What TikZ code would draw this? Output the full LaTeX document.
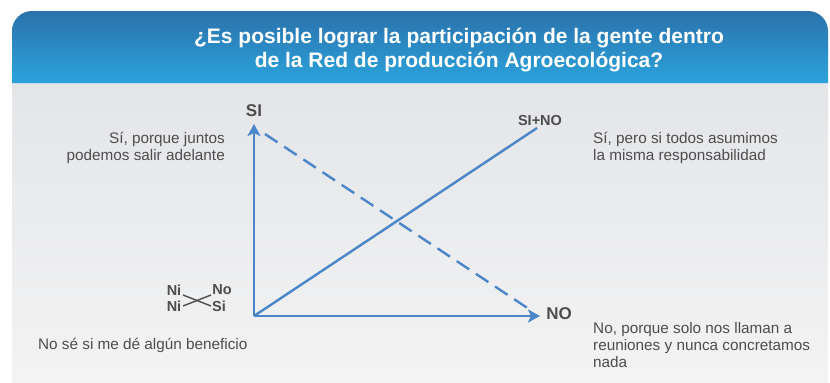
\documentclass[tikz,border=0pt]{standalone}
\usepackage{fontspec}
\setmainfont{Liberation Sans}
\usetikzlibrary{arrows.meta}
\definecolor{hdtop}{HTML}{2B72AC}
\definecolor{hdbot}{HTML}{2BA3DC}
\definecolor{bodytop}{HTML}{E3E5E8}
\definecolor{bodybot}{HTML}{F3F3F3}
\definecolor{axisblue}{HTML}{4A86C8}
\definecolor{txtgray}{HTML}{4D4D4D}
\begin{document}
\begin{tikzpicture}[x=1bp,y=-1bp,
  axisline/.style={draw=axisblue, line width=2.8bp},
  diagline/.style={draw=axisblue, line width=2.4bp},
  tip/.style={-{Stealth[length=12bp,width=13bp,inset=3bp]}},
  bodytxt/.style={text=txtgray, inner sep=0pt, font=\fontsize{15.3bp}{17bp}\selectfont},
  axlabel/.style={text=txtgray, inner sep=0pt, font=\bfseries\fontsize{17bp}{20bp}\selectfont},
  smlabel/.style={text=txtgray, inner sep=0pt, font=\bfseries\fontsize{14.5bp}{16bp}\selectfont},
  crossline/.style={draw=txtgray, line width=1.4bp}]
\useasboundingbox (0,0) rectangle (830,382);
\fill[white] (0,0) rectangle (830,382);
% body panel
\shade[top color=bodytop, bottom color=bodybot] (12,83) rectangle (828,382);
% header
\shade[top color=hdtop, bottom color=hdbot] (12,83) [rounded corners=20bp] -- (12,11) -- (828,11) [sharp corners] -- (828,83) -- cycle;
\node[text=white, inner sep=0pt, align=center, font=\bfseries\fontsize{21bp}{24.5bp}\selectfont] (title) at (459,50)
  {¿Es posible lograr la participación de la gente dentro\\de la Red de producción Agroecológica?};

% axes
\coordinate (O) at (254,316);
\coordinate (Ytip) at (254,124);
\coordinate (Xtip) at (540,316);
\coordinate (Dend) at (537,128);
\coordinate (Dashstart) at (265,134);
\coordinate (Dashend) at (532,311);
\draw[diagline] (O) -- (Dend);
\draw[diagline, dash pattern=on 15bp off 8bp] (Dashstart) -- (Dashend);
\draw[axisline, tip] (O) -- (Ytip);
\draw[axisline, tip] (O) -- (Xtip);

\node[axlabel] (si) at (254,111) {SI};
\node[axlabel] (no) at (559,314) {NO};
\node[smlabel] (sino) at (540,121) {SI+NO};

% cross
\node[smlabel] (ni1) at (174,290) {Ni};
\node[smlabel] (no1) at (222,290) {No};
\node[smlabel] (ni2) at (174,306) {Ni};
\node[smlabel] (si1) at (219,306) {Si};
\draw[crossline] (183,295) -- (211,306);
\draw[crossline] (183,306) -- (211,295);

% texts
\node[bodytxt, anchor=north east, align=right] (t1) at (225,132) {Sí, porque juntos\\podemos salir adelante};
\node[bodytxt, anchor=north west, align=left] (t2) at (593,132) {Sí, pero si todos asumimos\\la misma responsabilidad};
\node[bodytxt, anchor=west] (t3) at (38,345) {No sé si me dé algún beneficio};
\node[bodytxt, anchor=north west, align=left] (t4) at (593,322) {No, porque solo nos llaman a\\reuniones y nunca concretamos\\nada};
\end{tikzpicture}
\end{document}
